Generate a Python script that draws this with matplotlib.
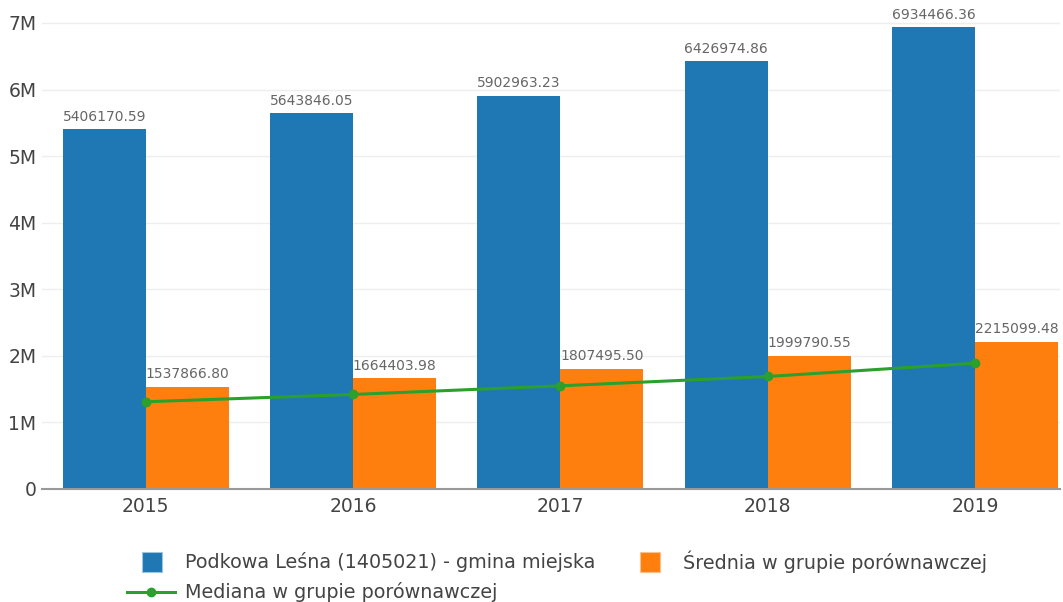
import matplotlib
matplotlib.use("Agg")
import matplotlib.pyplot as plt
import numpy as np
from matplotlib.lines import Line2D
from matplotlib.patches import Rectangle
from matplotlib.ticker import FuncFormatter

years = ["2015", "2016", "2017", "2018", "2019"]
gmina = [5406170.59, 5643846.05, 5902963.23, 6426974.86, 6934466.36]
srednia = [1537866.80, 1664403.98, 1807495.50, 1999790.55, 2215099.48]
mediana = [1310000, 1420000, 1550000, 1690000, 1890000]

label_gmina = "Podkowa Leśna (1405021) - gmina miejska"
label_srednia = "Średnia w grupie porównawczej"
label_mediana = "Mediana w grupie porównawczej"

BLUE = "#1f77b4"
ORANGE = "#ff7f0e"
GREEN = "#2ca02c"
W, H = 1063, 602

fig = plt.figure(figsize=(W / 100, H / 100), dpi=100)
ax = fig.add_axes([42 / W, 113 / H, (1060 - 42) / W, (489 - 5) / H])

x = np.arange(len(years))
w = 0.4
ax.bar(x - w / 2, gmina, w, color=BLUE, zorder=2)
ax.bar(x + w / 2, srednia, w, color=ORANGE, zorder=2)
ax.plot(x, mediana, color=GREEN, lw=2.2, marker="o", ms=6, zorder=3)

for xs, vals in [(x - w / 2, gmina), (x + w / 2, srednia)]:
    for xi, v in zip(xs, vals):
        ax.annotate(f"{v:.2f}", (xi, v), xytext=(0, 4), textcoords="offset points",
                    ha="center", va="bottom", fontsize=10, color="#666666")

ax.set_xlim(-0.5, (1060 - 146) / 207.3)
ax.set_ylim(0, 7.27e6)
ax.set_xticks(x)
ax.set_xticklabels(years)
ax.set_yticks(np.arange(0, 8e6, 1e6))
ax.yaxis.set_major_formatter(FuncFormatter(lambda v, p: "0" if v == 0 else f"{v / 1e6:.0f}M"))
ax.tick_params(axis="both", length=0, labelsize=13.5, colors="#444444")
ax.tick_params(axis="x", pad=6)
ax.tick_params(axis="y", pad=4)
ax.grid(axis="y", color="#eeeeee", lw=1, zorder=0)
for s in ["top", "right", "left"]:
    ax.spines[s].set_visible(False)
ax.spines["bottom"].set_color("#999999")
ax.spines["bottom"].set_linewidth(1.5)
ax.spines["bottom"].set_zorder(4)


# legend drawn by hand so that it sits like the original
def fx(px):
    return px / W


def fy(py):
    return 1 - py / H


fig.add_artist(Rectangle((fx(142), fy(572)), 20 / W, 20 / H, transform=fig.transFigure,
                         facecolor=BLUE, edgecolor="#9cc3e0", lw=0.8))
fig.text(fx(185), fy(562), label_gmina, fontsize=13.8, color="#444444", va="center")
fig.add_artist(Rectangle((fx(640), fy(572)), 20 / W, 20 / H, transform=fig.transFigure,
                         facecolor=ORANGE, edgecolor="#ffc08a", lw=0.8))
fig.text(fx(683), fy(562), label_srednia, fontsize=13.8, color="#444444", va="center")
fig.add_artist(Line2D([fx(127), fx(175)], [fy(592), fy(592)], transform=fig.transFigure,
                      color=GREEN, lw=2.2))
fig.add_artist(Line2D([fx(151)], [fy(592)], transform=fig.transFigure,
                      color=GREEN, marker="o", ms=6))
fig.text(fx(185), fy(592), label_mediana, fontsize=13.8, color="#444444", va="center")

fig.savefig("out.png", dpi=100)
